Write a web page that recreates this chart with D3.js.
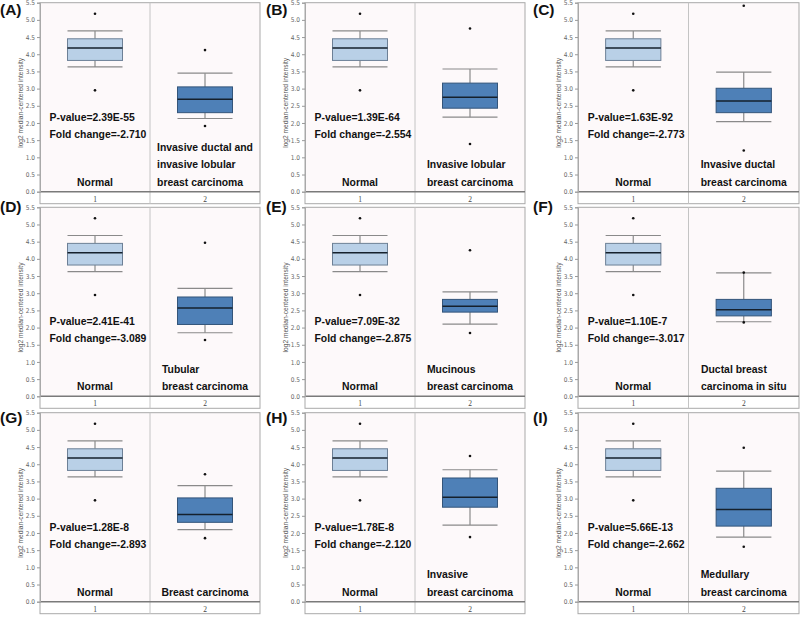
<!DOCTYPE html>
<html>
<head>
<meta charset="utf-8">
<script src="https://cdn.jsdelivr.net/npm/d3@7"></script>
<style>
  html, body { margin: 0; padding: 0; background: #ffffff; }
  svg { display: block; }
</style>
</head>
<body>
<svg id="chart" width="800" height="623"></svg>
<script>
// ---------------- DATA ----------------
const panelLabels = ["(A)", "(B)", "(C)", "(D)", "(E)", "(F)", "(G)", "(H)", "(I)"];
const categories = ["1", "2"];
const normalName = "Normal";
const pValues = ["2.39E-55", "1.39E-64", "1.63E-92", "2.41E-41", "7.09E-32", "1.10E-7", "1.28E-8", "1.78E-8", "5.66E-13"];
const foldChanges = ["-2.710", "-2.554", "-2.773", "-3.089", "-2.875", "-3.017", "-2.893", "-2.120", "-2.662"];
const tumorNames = [
  ["Invasive ductal and", "invasive lobular", "breast carcinoma"],
  ["Invasive lobular", "breast carcinoma"],
  ["Invasive ductal", "breast carcinoma"],
  ["Tubular", "breast carcinoma"],
  ["Mucinous", "breast carcinoma"],
  ["Ductal breast", "carcinoma in situ"],
  ["Breast carcinoma"],
  ["Invasive", "breast carcinoma"],
  ["Medullary", "breast carcinoma"]
];
// [whisker low, Q1, median, Q3, whisker high]
const normalBox = [3.63, 3.82, 4.18, 4.45, 4.68];
const normalOutliers = [2.95, 5.18];
const tumorBoxes = [
  [2.13, 2.30, 2.69, 3.05, 3.45],
  [2.17, 2.43, 2.75, 3.16, 3.57],
  [2.04, 2.30, 2.64, 3.01, 3.48],
  [1.85, 2.09, 2.57, 2.89, 3.14],
  [2.10, 2.45, 2.62, 2.82, 3.04],
  [2.17, 2.34, 2.52, 2.82, 3.59],
  [2.10, 2.31, 2.54, 3.02, 3.38],
  [2.23, 2.75, 3.04, 3.60, 3.84],
  [1.88, 2.20, 2.68, 3.30, 3.80]
];
const tumorOutliers = [
  [1.91, 4.12],
  [1.39, 4.75],
  [1.20, 5.41],
  [1.64, 4.47],
  [1.84, 4.25],
  [2.15, 3.60],
  [1.85, 3.71],
  [1.88, 4.24],
  [1.60, 4.48]
];
const yTicks = [0, 0.5, 1, 1.5, 2, 2.5, 3, 3.5, 4, 4.5, 5, 5.5];
const yDomain = [0, 5.5];
const yAxisTitle = "log2 median-centered intensity";

// ---------------- LAYOUT ----------------
const colLeft = [40, 305, 578];
const colWidth = [220, 220, 221];
const rowTop = [2.7, 207.3, 412.7];
const plotH = 189;
const bandH = 12;
const labelX = [0, 266, 533];
const labelBase = [15, 212, 423];

const svg = d3.select("#chart");
const boldFont = "'Liberation Sans', Arial, Helvetica, sans-serif";

const normalFill = "#b9d0e7", normalStroke = "#6d8096";
const tumorFill = "#4e80b7", tumorStroke = "#34557a";

panelLabels.forEach((lab, i) => {
  const r = Math.floor(i / 3), c = i % 3;
  const L = colLeft[c], W = colWidth[c], T = rowTop[r];
  const x = d3.scaleBand().domain(categories).range([L, L + W]).padding(0);
  const y = d3.scaleLinear().domain(yDomain).range([T + plotH, T]);
  const g = svg.append("g");

  // background
  g.append("rect").attr("x", L).attr("y", T).attr("width", W).attr("height", plotH)
    .attr("fill", "#fdf9fa");
  g.append("rect").attr("x", L).attr("y", T + plotH).attr("width", W).attr("height", bandH)
    .attr("fill", "#ffffff");

  // frame
  g.append("rect").attr("x", L).attr("y", T).attr("width", W).attr("height", plotH + bandH)
    .attr("fill", "none").attr("stroke", "#a9a9a9").attr("stroke-width", 1);
  // separator
  const sep = x("2");
  g.append("line").attr("x1", sep).attr("x2", sep).attr("y1", T).attr("y2", T + plotH + bandH)
    .attr("stroke", "#c4c4c4").attr("stroke-width", 1);
  // zero line
  g.append("line").attr("x1", L).attr("x2", L + W).attr("y1", y(0)).attr("y2", y(0))
    .attr("stroke", "#7a7a7a").attr("stroke-width", 1.6);

  // y axis
  const ya = g.append("g").attr("transform", `translate(${L},0)`)
    .call(d3.axisLeft(y).tickValues(yTicks).tickSize(3).tickPadding(2).tickFormat(d3.format(".1f")));
  ya.select(".domain").attr("stroke", "#a9a9a9");
  ya.selectAll(".tick line").attr("stroke", "#999");
  ya.selectAll(".tick text").attr("fill", "#666")
    .style("font-family", "'Liberation Sans Narrow', 'DejaVu Sans Condensed', 'Liberation Sans', sans-serif")
    .style("font-size", "6.5px");

  // y title
  g.append("text")
    .attr("transform", `translate(${L - 17},${T + plotH * 0.53}) rotate(-90)`)
    .attr("text-anchor", "middle")
    .attr("fill", "#555")
    .style("font-family", "'Liberation Sans', Arial, sans-serif")
    .style("font-size", "6.6px")
    .text(yAxisTitle);

  // category tick labels in band
  categories.forEach(cat => {
    g.append("text").attr("x", x(cat) + x.bandwidth() / 2).attr("y", y(0) + 9.8)
      .attr("text-anchor", "middle").attr("fill", "#444")
      .style("font-family", "'Liberation Serif', 'DejaVu Serif', serif")
      .style("font-size", "7.5px").text(cat);
  });

  // boxes
  const bw = x.bandwidth() * 0.5;
  const boxes = [
    { cat: "1", s: normalBox, out: normalOutliers, fill: normalFill, stroke: normalStroke },
    { cat: "2", s: tumorBoxes[i], out: tumorOutliers[i], fill: tumorFill, stroke: tumorStroke }
  ];
  boxes.forEach(b => {
    const cx = x(b.cat) + x.bandwidth() / 2;
    const [lo, q1, med, q3, hi] = b.s;
    const bg = g.append("g");
    // whisker stems
    bg.append("line").attr("x1", cx).attr("x2", cx).attr("y1", y(q3)).attr("y2", y(hi))
      .attr("stroke", "#8a8a8a").attr("stroke-width", 1.2);
    bg.append("line").attr("x1", cx).attr("x2", cx).attr("y1", y(q1)).attr("y2", y(lo))
      .attr("stroke", "#8a8a8a").attr("stroke-width", 1.2);
    // caps
    [lo, hi].forEach(v => {
      bg.append("line").attr("x1", cx - bw / 2).attr("x2", cx + bw / 2).attr("y1", y(v)).attr("y2", y(v))
        .attr("stroke", "#8a8a8a").attr("stroke-width", 1.2);
    });
    // box
    bg.append("rect").attr("x", cx - bw / 2).attr("y", y(q3)).attr("width", bw).attr("height", y(q1) - y(q3))
      .attr("fill", b.fill).attr("stroke", b.stroke).attr("stroke-width", 1);
    // median
    bg.append("line").attr("x1", cx - bw / 2).attr("x2", cx + bw / 2).attr("y1", y(med)).attr("y2", y(med))
      .attr("stroke", "#15202c").attr("stroke-width", 1.5);
    // outliers
    bg.selectAll("circle.o").data(b.out).enter().append("circle")
      .attr("cx", cx).attr("cy", d => y(d)).attr("r", 1.3).attr("fill", "#111");
  });

  const c1 = x("1") + x.bandwidth() / 2;
  const c2 = x("2") + x.bandwidth() / 2;
  const txt = (xx, yy, s, anchor) => g.append("text").attr("x", xx).attr("y", yy)
    .attr("text-anchor", anchor || "start").attr("fill", "#111")
    .style("font-family", boldFont).style("font-weight", "bold").style("font-size", "10.4px").text(s);

  txt(c1 - 45.5, T + 118, "P-value=" + pValues[i]);
  txt(c1 - 45.5, T + 135, "Fold change=" + foldChanges[i]);
  txt(c1, T + 183, normalName, "middle");

  // tumor label block: left-aligned lines, block centered on category 2
  const lines = tumorNames[i];
  const tnodes = lines.map((s, k) => txt(0, T + 183 - (lines.length - 1 - k) * 17.6, s));
  const maxW = d3.max(tnodes, n => n.node().getComputedTextLength());
  tnodes.forEach(n => n.attr("x", c2 - maxW / 2));

  // panel label
  svg.append("text").attr("x", labelX[c]).attr("y", labelBase[r])
    .attr("fill", "#111").style("font-family", boldFont).style("font-weight", "bold")
    .style("font-size", "15.5px").text(lab);
});
</script>
</body>
</html>
